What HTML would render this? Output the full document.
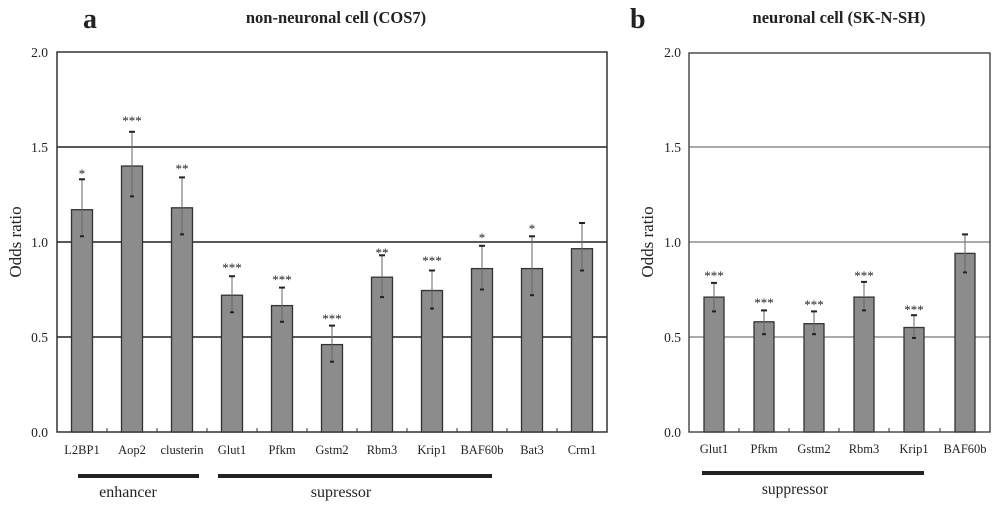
<!DOCTYPE html>
<html><head><meta charset="utf-8"><style>body{margin:0;background:#fff}svg{display:block}text{font-family:"Liberation Serif",serif;fill:#222}</style></head><body>
<svg width="1000" height="509" viewBox="0 0 1000 509" xmlns="http://www.w3.org/2000/svg">
<!-- Panel a -->
<text x="83" y="28" font-size="28" font-weight="bold">a</text>
<text x="336" y="23" font-size="16.5" font-weight="bold" text-anchor="middle">non-neuronal cell (COS7)</text>
<g font-size="13.5" text-anchor="end"><text x="48" y="57">2.0</text><text x="48" y="152">1.5</text><text x="48" y="247">1.0</text><text x="48" y="342">0.5</text><text x="48" y="437">0.0</text></g>
<text transform="translate(21,242) rotate(-90)" font-size="17" text-anchor="middle">Odds ratio</text>
<g stroke="#222" stroke-width="1.5"><line x1="57" y1="147" x2="607" y2="147"/><line x1="57" y1="242" x2="607" y2="242"/><line x1="57" y1="337" x2="607" y2="337"/></g>
<rect x="57" y="52" width="550" height="380" fill="none" stroke="#333" stroke-width="1.5"/>
<g stroke="#333" stroke-width="1"><line x1="107" y1="432" x2="107" y2="428"/><line x1="157" y1="432" x2="157" y2="428"/><line x1="207" y1="432" x2="207" y2="428"/><line x1="257" y1="432" x2="257" y2="428"/><line x1="307" y1="432" x2="307" y2="428"/><line x1="357" y1="432" x2="357" y2="428"/><line x1="407" y1="432" x2="407" y2="428"/><line x1="457" y1="432" x2="457" y2="428"/><line x1="507" y1="432" x2="507" y2="428"/><line x1="557" y1="432" x2="557" y2="428"/></g>
<g fill="#8c8c8c" stroke="#333" stroke-width="1.3">
<rect x="71.5" y="209.7" width="21" height="222.3"/><rect x="121.5" y="166" width="21" height="266"/><rect x="171.5" y="207.8" width="21" height="224.2"/><rect x="221.5" y="295.2" width="21" height="136.8"/><rect x="271.5" y="305.6" width="21" height="126.4"/><rect x="321.5" y="344.6" width="21" height="87.4"/><rect x="371.5" y="277.2" width="21" height="154.8"/><rect x="421.5" y="290.5" width="21" height="141.5"/><rect x="471.5" y="268.6" width="21" height="163.4"/><rect x="521.5" y="268.6" width="21" height="163.4"/><rect x="571.5" y="248.7" width="21" height="183.3"/>
</g>
<g stroke="#666" stroke-width="1">
<line x1="82" y1="179.3" x2="82" y2="236.3"/><line x1="132" y1="131.8" x2="132" y2="196.4"/><line x1="182" y1="177.4" x2="182" y2="234.4"/><line x1="232" y1="276.2" x2="232" y2="312.3"/><line x1="282" y1="287.6" x2="282" y2="321.8"/><line x1="332" y1="325.6" x2="332" y2="361.7"/><line x1="382" y1="255.3" x2="382" y2="297.1"/><line x1="432" y1="270.5" x2="432" y2="308.5"/><line x1="482" y1="245.8" x2="482" y2="289.5"/><line x1="532" y1="236.3" x2="532" y2="295.2"/><line x1="582" y1="223" x2="582" y2="270.5"/>
</g>
<g stroke="#222" stroke-width="2">
<line x1="79" y1="179.3" x2="85" y2="179.3"/><line x1="80" y1="236.3" x2="84" y2="236.3"/>
<line x1="129" y1="131.8" x2="135" y2="131.8"/><line x1="130" y1="196.4" x2="134" y2="196.4"/>
<line x1="179" y1="177.4" x2="185" y2="177.4"/><line x1="180" y1="234.4" x2="184" y2="234.4"/>
<line x1="229" y1="276.2" x2="235" y2="276.2"/><line x1="230" y1="312.3" x2="234" y2="312.3"/>
<line x1="279" y1="287.6" x2="285" y2="287.6"/><line x1="280" y1="321.8" x2="284" y2="321.8"/>
<line x1="329" y1="325.6" x2="335" y2="325.6"/><line x1="330" y1="361.7" x2="334" y2="361.7"/>
<line x1="379" y1="255.3" x2="385" y2="255.3"/><line x1="380" y1="297.1" x2="384" y2="297.1"/>
<line x1="429" y1="270.5" x2="435" y2="270.5"/><line x1="430" y1="308.5" x2="434" y2="308.5"/>
<line x1="479" y1="245.8" x2="485" y2="245.8"/><line x1="480" y1="289.5" x2="484" y2="289.5"/>
<line x1="529" y1="236.3" x2="535" y2="236.3"/><line x1="530" y1="295.2" x2="534" y2="295.2"/>
<line x1="579" y1="223" x2="585" y2="223"/><line x1="580" y1="270.5" x2="584" y2="270.5"/>
</g>
<g font-size="13" text-anchor="middle" fill="#444">
<text x="82" y="178">*</text><text x="132" y="125">***</text><text x="182" y="173">**</text><text x="232" y="272">***</text><text x="282" y="284">***</text><text x="332" y="323">***</text><text x="382" y="257">**</text><text x="432" y="265">***</text><text x="482" y="242">*</text><text x="532" y="233">*</text>
</g>
<g font-size="12.5" text-anchor="middle">
<text x="82" y="454">L2BP1</text><text x="132" y="454">Aop2</text><text x="182" y="454">clusterin</text><text x="232" y="454">Glut1</text><text x="282" y="454">Pfkm</text><text x="332" y="454">Gstm2</text><text x="382" y="454">Rbm3</text><text x="432" y="454">Krip1</text><text x="482" y="454">BAF60b</text><text x="532" y="454">Bat3</text><text x="582" y="454">Crm1</text>
</g>
<rect x="78" y="474" width="121" height="4" fill="#222"/><rect x="218" y="474" width="274" height="4" fill="#222"/>
<text x="128" y="497" font-size="16" text-anchor="middle">enhancer</text><text x="341" y="497" font-size="16" text-anchor="middle">supressor</text>

<!-- Panel b -->
<text x="630" y="28" font-size="28" font-weight="bold">b</text>
<text x="839" y="23" font-size="16.5" font-weight="bold" text-anchor="middle">neuronal cell (SK-N-SH)</text>
<g font-size="13.5" text-anchor="end"><text x="681" y="57">2.0</text><text x="681" y="152">1.5</text><text x="681" y="247">1.0</text><text x="681" y="342">0.5</text><text x="681" y="437">0.0</text></g>
<text transform="translate(653,242) rotate(-90)" font-size="17" text-anchor="middle">Odds ratio</text>
<g stroke="#555" stroke-width="1"><line x1="689" y1="147" x2="990" y2="147"/><line x1="689" y1="242" x2="990" y2="242"/><line x1="689" y1="337" x2="990" y2="337"/></g>
<rect x="689" y="53" width="301" height="379" fill="none" stroke="#333" stroke-width="1.3"/>
<g stroke="#333" stroke-width="1"><line x1="739" y1="432" x2="739" y2="428"/><line x1="789" y1="432" x2="789" y2="428"/><line x1="839" y1="432" x2="839" y2="428"/><line x1="889" y1="432" x2="889" y2="428"/><line x1="940" y1="432" x2="940" y2="428"/></g>
<g fill="#8c8c8c" stroke="#333" stroke-width="1.3">
<rect x="704" y="297.1" width="20" height="134.9"/><rect x="754" y="321.8" width="20" height="110.2"/><rect x="804" y="323.7" width="20" height="108.3"/><rect x="854" y="297.1" width="20" height="134.9"/><rect x="904" y="327.5" width="20" height="104.5"/><rect x="955" y="253.4" width="20" height="178.6"/>
</g>
<g stroke="#666" stroke-width="1">
<line x1="714" y1="282.9" x2="714" y2="311.4"/><line x1="764" y1="310.4" x2="764" y2="334.2"/><line x1="814" y1="311.4" x2="814" y2="334.2"/><line x1="864" y1="281.9" x2="864" y2="310.4"/><line x1="914" y1="315.2" x2="914" y2="338"/><line x1="965" y1="234.4" x2="965" y2="272.4"/>
</g>
<g stroke="#222" stroke-width="2">
<line x1="711" y1="282.9" x2="717" y2="282.9"/><line x1="712" y1="311.4" x2="716" y2="311.4"/>
<line x1="761" y1="310.4" x2="767" y2="310.4"/><line x1="762" y1="334.2" x2="766" y2="334.2"/>
<line x1="811" y1="311.4" x2="817" y2="311.4"/><line x1="812" y1="334.2" x2="816" y2="334.2"/>
<line x1="861" y1="281.9" x2="867" y2="281.9"/><line x1="862" y1="310.4" x2="866" y2="310.4"/>
<line x1="911" y1="315.2" x2="917" y2="315.2"/><line x1="912" y1="338" x2="916" y2="338"/>
<line x1="962" y1="234.4" x2="968" y2="234.4"/><line x1="963" y1="272.4" x2="967" y2="272.4"/>
</g>
<g font-size="13" text-anchor="middle" fill="#444">
<text x="714" y="280">***</text><text x="764" y="307">***</text><text x="814" y="309">***</text><text x="864" y="280">***</text><text x="914" y="314">***</text>
</g>
<g font-size="12.5" text-anchor="middle">
<text x="714" y="453">Glut1</text><text x="764" y="453">Pfkm</text><text x="814" y="453">Gstm2</text><text x="864" y="453">Rbm3</text><text x="914" y="453">Krip1</text><text x="965" y="453">BAF60b</text>
</g>
<rect x="702" y="471" width="222" height="4" fill="#222"/>
<text x="795" y="494" font-size="15.5" text-anchor="middle">suppressor</text>
</svg>
</body></html>
